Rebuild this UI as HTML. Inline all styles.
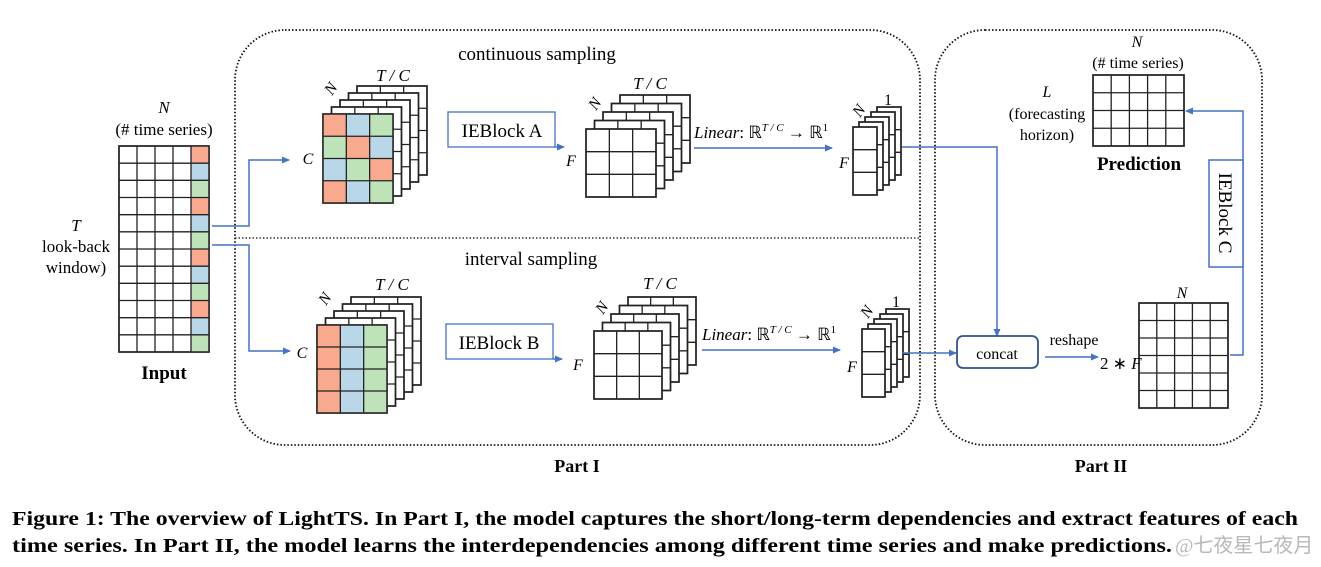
<!DOCTYPE html>
<html><head><meta charset="utf-8"><style>
html,body{margin:0;padding:0;background:#fff;width:1321px;height:567px;overflow:hidden}
svg{display:block}
text{font-family:"Liberation Serif",serif;fill:#000}
.i{font-style:italic}
.b{font-weight:bold}
</style></head><body>
<svg id="s" width="1321" height="567" viewBox="0 0 1321 567" xmlns="http://www.w3.org/2000/svg">
<defs><marker id="ar" markerWidth="8" markerHeight="8" refX="7" refY="4" orient="auto" markerUnits="userSpaceOnUse"><path d="M0,0.5 L8,4 L0,7.5 z" fill="#4472c4"/></marker></defs>
<rect x="235" y="30" width="685" height="415" rx="50" fill="none" stroke="#111" stroke-width="1.8" stroke-dasharray="1.5,2"/>
<line x1="235" y1="238" x2="920" y2="238" stroke="#333" stroke-width="1.5" stroke-dasharray="1.5,2"/>
<rect x="935" y="30" width="327" height="415" rx="50" fill="none" stroke="#111" stroke-width="1.8" stroke-dasharray="1.5,2"/>
<g id="g"></g>
<g fill="none" stroke="#4472c4" stroke-width="1.5">
<path d="M212,226 H249 V160 H289" marker-end="url(#ar)"/>
<path d="M212,245 H249 V351 H290" marker-end="url(#ar)"/>
<rect x="448" y="112" width="107" height="35" stroke-width="1.3"/>
<path d="M555,147 H564" marker-end="url(#ar)"/>
<rect x="446" y="324" width="107" height="35" stroke-width="1.3"/>
<path d="M553,359 H562" marker-end="url(#ar)"/>
<path d="M694,148 H832" marker-end="url(#ar)"/>
<path d="M702,350 H840" marker-end="url(#ar)"/>
<path d="M902,147 H997 V336" marker-end="url(#ar)"/>
<path d="M902,353 H956" marker-end="url(#ar)"/>
<path d="M1045,357 H1098" marker-end="url(#ar)"/>
<path d="M1230,355 H1243 V111 H1186" marker-end="url(#ar)"/>
<rect x="1209" y="160" width="34" height="107" fill="#fff"/>
</g>
<rect x="957" y="336" width="81" height="32" rx="6" fill="#fff" stroke="#2f528f" stroke-width="1.8"/>
<text x="164" y="113" font-size="17" class="i" text-anchor="middle">N</text>
<text x="164" y="135" font-size="17" text-anchor="middle">(# time series)</text>
<text x="76" y="231" font-size="17" class="i" text-anchor="middle">T</text>
<text x="76" y="252" font-size="17" text-anchor="middle">look-back</text>
<text x="76" y="273" font-size="17" text-anchor="middle">window)</text>
<text x="164" y="379" font-size="19" class="b" text-anchor="middle">Input</text>
<text x="537" y="60" font-size="19" text-anchor="middle">continuous sampling</text>
<text x="531" y="265" font-size="19" text-anchor="middle">interval sampling</text>
<text x="502" y="137" font-size="19" text-anchor="middle">IEBlock A</text>
<text x="499" y="349" font-size="19" text-anchor="middle">IEBlock B</text>
<text x="308" y="164" font-size="16" class="i" text-anchor="middle">C</text>
<text x="302" y="358" font-size="16" class="i" text-anchor="middle">C</text>
<text x="393" y="81" font-size="17" class="i" text-anchor="middle">T / C</text>
<text x="392" y="290" font-size="17" class="i" text-anchor="middle">T / C</text>
<text x="650" y="89" font-size="17" class="i" text-anchor="middle">T / C</text>
<text x="660" y="289" font-size="17" class="i" text-anchor="middle">T / C</text>
<text class="i" font-size="16" transform="translate(332,96) rotate(-55)">N</text>
<text class="i" font-size="16" transform="translate(326,306) rotate(-55)">N</text>
<text class="i" font-size="16" transform="translate(596,111) rotate(-55)">N</text>
<text class="i" font-size="16" transform="translate(603,315) rotate(-55)">N</text>
<text class="i" font-size="16" transform="translate(860,118) rotate(-55)">N</text>
<text class="i" font-size="16" transform="translate(868,319) rotate(-55)">N</text>
<text x="571" y="166" font-size="16" class="i" text-anchor="middle">F</text>
<text x="578" y="370" font-size="16" class="i" text-anchor="middle">F</text>
<text x="844" y="168" font-size="16" class="i" text-anchor="middle">F</text>
<text x="852" y="372" font-size="16" class="i" text-anchor="middle">F</text>
<text x="888" y="105" font-size="16" text-anchor="middle">1</text>
<text x="896" y="307" font-size="16" text-anchor="middle">1</text>
<text x="694" y="138" font-size="17"><tspan class="i">Linear</tspan>: ℝ<tspan font-size="11" dy="-7" class="i">T / C</tspan><tspan dy="7"> → ℝ</tspan><tspan font-size="11" dy="-7">1</tspan></text>
<text x="702" y="340" font-size="17"><tspan class="i">Linear</tspan>: ℝ<tspan font-size="11" dy="-7" class="i">T / C</tspan><tspan dy="7"> → ℝ</tspan><tspan font-size="11" dy="-7">1</tspan></text>
<text x="997" y="359" font-size="16" text-anchor="middle">concat</text>
<text x="1074" y="345" font-size="16" text-anchor="middle">reshape</text>
<text x="1100" y="369" font-size="17">2 ∗ <tspan class="i">F</tspan></text>
<text x="1182" y="298" font-size="16" class="i" text-anchor="middle">N</text>
<text x="1137" y="47" font-size="16" class="i" text-anchor="middle">N</text>
<text x="1138" y="68" font-size="16" text-anchor="middle">(# time series)</text>
<text x="1047" y="97" font-size="16" class="i" text-anchor="middle">L</text>
<text x="1047" y="119" font-size="16" text-anchor="middle">(forecasting</text>
<text x="1047" y="140" font-size="16" text-anchor="middle">horizon)</text>
<text x="1139" y="170" font-size="19" class="b" text-anchor="middle">Prediction</text>
<text font-size="19" transform="translate(1219,213) rotate(90)" text-anchor="middle">IEBlock C</text>
<text x="577" y="472" font-size="18" class="b" text-anchor="middle">Part I</text>
<text x="1101" y="472" font-size="18" class="b" text-anchor="middle">Part II</text>
<text x="12" y="525" font-size="20" class="b" textLength="1286" lengthAdjust="spacingAndGlyphs">Figure 1: The overview of LightTS. In Part I, the model captures the short/long-term dependencies and extract features of each</text>
<text x="12" y="552" font-size="20" class="b" textLength="1160" lengthAdjust="spacingAndGlyphs">time series. In Part II, the model learns the interdependencies among different time series and make predictions.</text>
<text x="1175" y="552" font-size="20" style="fill:#b8b8b8">@七夜星七夜月</text>
</svg>
<script>
var g=document.getElementById('g'),NS='http://www.w3.org/2000/svg';
var R='#f8a98e',B='#b8d7e8',G='#bfe3b8';
function el(t,a){var e=document.createElementNS(NS,t);for(var k in a)e.setAttribute(k,a[k]);g.appendChild(e);return e;}
function grid(x,y,w,h,c,r,fill){
 el('rect',{x:x,y:y,width:w,height:h,fill:'#fff',stroke:'#222','stroke-width':1.5});
 var cw=w/c,rh=h/r;
 if(fill){for(var i=0;i<r;i++)for(var j=0;j<c;j++){var f=fill(i,j);if(f)el('rect',{x:x+j*cw,y:y+i*rh,width:cw,height:rh,fill:f});}}
 for(var j=1;j<c;j++)el('line',{x1:x+j*cw,y1:y,x2:x+j*cw,y2:y+h,stroke:'#222','stroke-width':1.3});
 for(var i=1;i<r;i++)el('line',{x1:x,y1:y+i*rh,x2:x+w,y2:y+i*rh,stroke:'#222','stroke-width':1.3});
 el('rect',{x:x,y:y,width:w,height:h,fill:'none',stroke:'#222','stroke-width':1.5});
}
function stack(x,y,w,h,c,r,n,dx,dy,fill){
 for(var k=n;k>=1;k--)grid(x+k*dx,y-k*dy,w,h,c,r,null);
 grid(x,y,w,h,c,r,fill);
}
grid(119,146,90,206,5,12,function(i,j){return j==4?[R,B,G][i%3]:null;});
var pat=[[R,B,G],[G,R,B],[B,G,R],[R,B,G]];
stack(323,114,70,89,3,4,4,8.5,7,function(i,j){return pat[i][j];});
stack(317,325,70,88,3,4,4,8.5,7,function(i,j){return [R,B,G][j];});
stack(586,129,70,68,3,3,4,8.5,8.5,null);
stack(594,331,68,68,3,3,4,8.5,8.5,null);
stack(853,127,24,68,1,3,4,6,5,null);
stack(862,329,23,68,1,3,4,6,5,null);
grid(1093,75,91,71,5,4,null);
grid(1139,303,89,105,5,6,null);
</script>
</body></html>
